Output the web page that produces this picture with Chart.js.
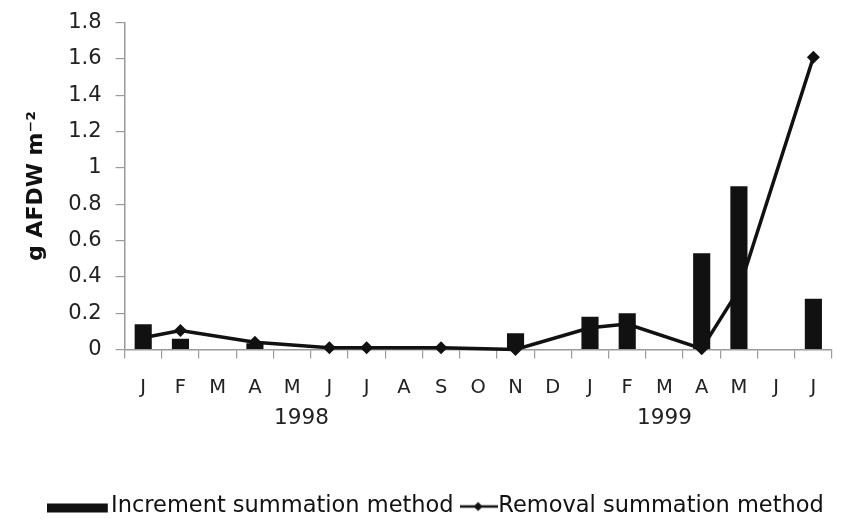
<!DOCTYPE html>
<html>
<head>
<meta charset="utf-8">
<script src="https://cdn.jsdelivr.net/npm/chart.js@4.4.1/dist/chart.umd.min.js"></script>
<style>
html,body{margin:0;padding:0;background:#fff;}
#wrap{width:860px;height:523px;position:relative;}
</style>
</head>
<body>
<div id="wrap"><canvas id="c"></canvas></div>
<script>
// ---- data ----
const monthLabels = ['J','F','M','A','M','J','J','A','S','O','N','D','J','F','M','A','M','J','J'];
const yearLabels = ['1998','1999'];
const yearPositions = [4.25, 14];   // month index under which each year label sits
const incrementValues = [0.14, 0.06, null, 0.035, null, null, null, null, null, null, 0.09, null, 0.18, 0.20, null, 0.53, 0.90, null, 0.28];
const removalValues   = [0.065, 0.105, null, 0.04, null, 0.01, 0.01, null, 0.01, null, 0.0, null, 0.12, 0.14, null, 0.005, 0.33, null, 1.61];
const seriesNames = ['Increment summation method', 'Removal summation method'];

const FONT = "'DejaVu Sans', sans-serif";
const INK = '#111111';
const AXIS = '#9a9a9a';

function makeBarSymbol(){
  const c = document.createElement('canvas');
  c.width = 90; c.height = 14;
  const g = c.getContext('2d');
  g.fillStyle = INK;
  g.fillRect(0, 4, 61, 9);
  return c;
}
function makeLineSymbol(){
  const c = document.createElement('canvas');
  c.width = 38; c.height = 14;
  const g = c.getContext('2d');
  g.strokeStyle = INK; g.lineWidth = 2.5;
  g.beginPath(); g.moveTo(0, 7); g.lineTo(38, 7); g.stroke();
  g.fillStyle = INK;
  g.beginPath(); g.moveTo(18, 2.5); g.lineTo(22.5, 7); g.lineTo(18, 11.5); g.lineTo(13.5, 7); g.closePath(); g.fill();
  return c;
}
const legendSymbols = [makeBarSymbol(), makeLineSymbol()];

const LEG_PAD = 17.5, LEG_FONT = 22.5, LEG_W = 16;
const legendPlace = {
  id: 'legendPlace',
  afterLayout(chart){
    const lg = chart.legend;
    if (!lg) return;
    const h = lg.height;
    const firstX = 111 - LEG_FONT / 2 - LEG_W;      // where the first legend item starts
    lg.left = 0;
    lg.right = firstX + lg.lineWidths[0] + 0.01;
    lg.top = 506.5 - LEG_PAD - LEG_FONT / 2;
    lg.bottom = lg.top + h;
  }
};

const X_TICK = 9, X_PAD = 17.7, X_FONT = 19.5;
const YR_PAD = 5.4, YR_FONT = 21.5;

new Chart(document.getElementById('c'), {
  type: 'bar',
  data: {
    labels: monthLabels,
    datasets: [
      {
        type: 'bar',
        label: seriesNames[0],
        data: incrementValues,
        backgroundColor: INK,
        borderWidth: 0,
        barPercentage: 0.46,
        categoryPercentage: 1.0
      },
      {
        type: 'line',
        label: seriesNames[1],
        data: removalValues,
        borderColor: INK,
        backgroundColor: INK,
        borderWidth: 3.5,
        spanGaps: true,
        tension: 0,
        pointStyle: 'rectRot',
        pointRadius: 6.5,
        pointBorderWidth: 0,
        pointBackgroundColor: INK,
        clip: false
      }
    ]
  },
  options: {
    responsive: true,
    maintainAspectRatio: false,
    animation: false,
    layout: { padding: { left: 23.4, right: 28, top: 22.7, bottom: 42.15 } },
    plugins: {
      tooltip: { enabled: false },
      legend: {
        position: 'bottom',
        align: 'end',
        labels: {
          usePointStyle: true,
          pointStyleWidth: LEG_W,
          boxHeight: 14,
          padding: LEG_PAD,
          color: INK,
          font: { family: FONT, size: LEG_FONT },
          generateLabels(chart){
            const items = Chart.defaults.plugins.legend.labels.generateLabels(chart);
            items.forEach((it, i) => { it.pointStyle = legendSymbols[i]; });
            return items;
          }
        }
      }
    },
    scales: {
      x: {
        offset: true,
        afterFit(axis){ axis.height = X_TICK + X_PAD + X_FONT * 1.2; },
        ticks: { color: '#222', font: { family: FONT, size: X_FONT }, padding: X_PAD, maxRotation: 0, autoSkip: false },
        grid: { offset: true, drawOnChartArea: false, tickLength: X_TICK, color: AXIS, lineWidth: 1.2 },
        border: { color: AXIS, width: 1.5 }
      },
      y: {
        min: 0, max: 1.8,
        afterFit(axis){ axis.paddingTop = 0; axis.paddingBottom = 0; },
        ticks: {
          stepSize: 0.2, color: '#222', font: { family: FONT, size: 21 }, padding: 14,
          callback: (v) => String(Math.round(v * 10) / 10)
        },
        grid: { drawOnChartArea: false, tickLength: 9, color: AXIS, lineWidth: 1.2 },
        border: { color: AXIS, width: 1.5 },
        title: { display: true, text: 'g AFDW m⁻²', color: INK, font: { family: FONT, size: 22, weight: 'bold' }, padding: { top: 0, bottom: 4.4 } }
      },
      yr: {
        type: 'linear',
        position: 'bottom',
        min: -0.5, max: 18.5,
        offset: false,
        afterBuildTicks(axis){ axis.ticks = yearPositions.map(v => ({ value: v })); },
        afterFit(axis){ axis.height = YR_PAD + YR_FONT * 1.2; },
        ticks: { callback: (v, i) => yearLabels[i], color: '#222', font: { family: FONT, size: YR_FONT }, padding: YR_PAD, maxRotation: 0, autoSkip: false },
        grid: { display: false, drawTicks: false },
        border: { display: false }
      }
    }
  },
  plugins: [legendPlace]
});
</script>
</body>
</html>
